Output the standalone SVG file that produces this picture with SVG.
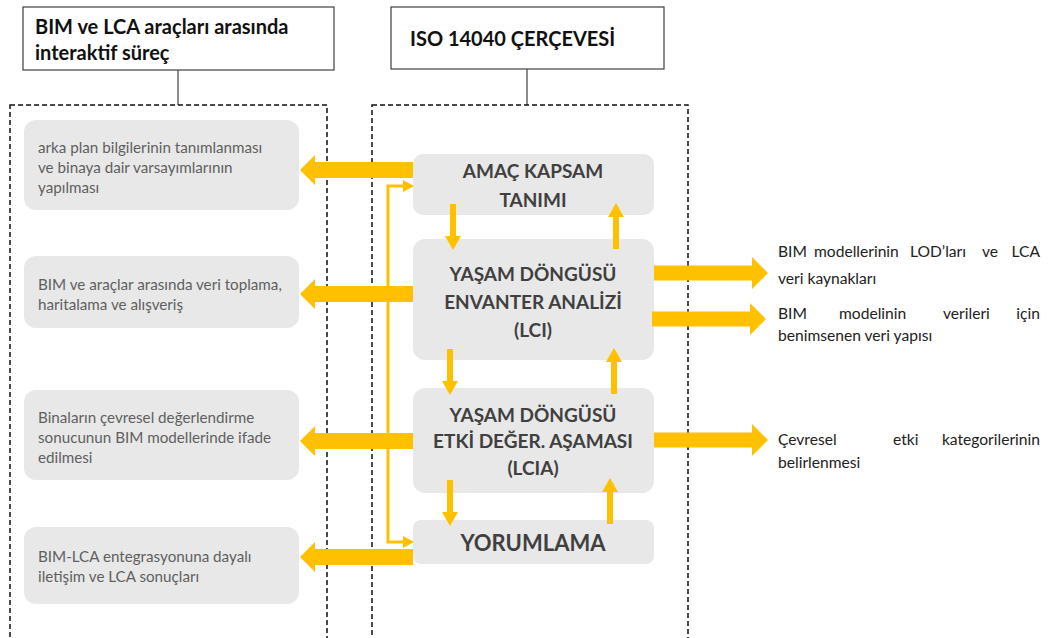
<svg xmlns="http://www.w3.org/2000/svg" width="1054" height="638" viewBox="0 0 1054 638">
  <style>
    .title { fill: #fff; stroke: #404040; stroke-width: 1.2; }
    .title-text { font-family: Lato, "Liberation Sans", sans-serif; font-weight: bold; font-size: 20px; fill: #111; }
    .frame { fill: none; stroke: #111; stroke-width: 1.5; stroke-dasharray: 5 3; }
    .stem { stroke: #404040; stroke-width: 1.2; }
    .card { fill: #e8e8e8; }
    .card-text { font-family: Lato, "Liberation Sans", sans-serif; font-size: 15.2px; fill: #5f5f5f; }
    .stage-text { font-family: Lato, "Liberation Sans", sans-serif; font-weight: bold; font-size: 19px; fill: #404040; text-anchor: middle; }
    .note-text { font-family: Lato, "Liberation Sans", sans-serif; font-size: 15.6px; fill: #222; }
    .end { text-anchor: end; }
    .arrow { fill: #ffc000; }
    .loop { fill: none; stroke: #ffc000; stroke-width: 3; }
  </style>
  <defs>
    <!-- wide block arrow pointing left, tip at origin -->
    <polygon id="bigLeft" points="0,0 15,-15 15,-8 113,-8 113,8 15,8 15,15"/>
    <!-- wide block arrow pointing right, tip at origin -->
    <polygon id="bigRight" points="0,0 -16,-16 -16,-7.5 -114,-7.5 -114,7.5 -16,7.5 -16,16"/>
    <!-- slim arrow pointing down, tip at origin, length 46 -->
    <polygon id="down" points="0,0 -8,-14 -3,-14 -3,-46 3,-46 3,-14 8,-14"/>
    <!-- slim arrow pointing up, tip at origin, length 46 -->
    <polygon id="up" points="0,0 -8,14 -3,14 -3,46 3,46 3,14 8,14"/>
  </defs>

  <!-- column headers -->
  <g id="header-left">
    <rect class="title" x="23" y="7" width="311" height="63"/>
    <text class="title-text" x="35" y="34">BIM ve LCA araçları arasında</text>
    <text class="title-text" x="35" y="60">interaktif süreç</text>
    <line class="stem" x1="178" y1="70" x2="178" y2="105"/>
  </g>
  <g id="header-right">
    <rect class="title" x="391" y="7" width="273" height="62"/>
    <text class="title-text" x="410" y="46">ISO 14040 ÇERÇEVESİ</text>
    <line class="stem" x1="527" y1="69" x2="527" y2="105"/>
  </g>

  <!-- dashed column frames -->
  <g id="frames">
    <rect class="frame" x="10" y="105" width="317" height="545"/>
    <rect class="frame" x="372" y="105" width="316" height="545"/>
  </g>

  <!-- left column cards -->
  <g id="card-background">
    <rect class="card" x="24" y="120" width="275" height="90" rx="12"/>
    <text class="card-text" x="38" y="153">arka plan bilgilerinin tanımlanması</text>
    <text class="card-text" x="38" y="173">ve binaya dair varsayımlarının</text>
    <text class="card-text" x="38" y="193">yapılması</text>
  </g>
  <g id="card-data">
    <rect class="card" x="24" y="256" width="275" height="72" rx="12"/>
    <text class="card-text" x="38" y="290">BIM ve araçlar arasında veri toplama,</text>
    <text class="card-text" x="38" y="310">haritalama ve alışveriş</text>
  </g>
  <g id="card-results">
    <rect class="card" x="24" y="390" width="275" height="90" rx="12"/>
    <text class="card-text" x="38" y="423">Binaların çevresel değerlendirme</text>
    <text class="card-text" x="38" y="443">sonucunun BIM modellerinde ifade</text>
    <text class="card-text" x="38" y="463">edilmesi</text>
  </g>
  <g id="card-communication">
    <rect class="card" x="24" y="527" width="275" height="77" rx="12"/>
    <text class="card-text" x="38" y="562">BIM-LCA entegrasyonuna dayalı</text>
    <text class="card-text" x="38" y="582">iletişim ve LCA sonuçları</text>
  </g>

  <!-- ISO 14040 stages -->
  <g id="stage-goal">
    <rect class="card" x="413" y="154" width="241" height="61" rx="10"/>
    <text class="stage-text" x="533" y="178">AMAÇ KAPSAM</text>
    <text class="stage-text" x="533" y="207">TANIMI</text>
  </g>
  <g id="stage-lci">
    <rect class="card" x="413" y="239" width="241" height="121" rx="12"/>
    <text class="stage-text" x="533" y="281">YAŞAM DÖNGÜSÜ</text>
    <text class="stage-text" x="533" y="309">ENVANTER ANALİZİ</text>
    <text class="stage-text" x="533" y="337">(LCI)</text>
  </g>
  <g id="stage-lcia">
    <rect class="card" x="413" y="388" width="241" height="105" rx="12"/>
    <text class="stage-text" x="533" y="422">YAŞAM DÖNGÜSÜ</text>
    <text class="stage-text" x="533" y="448">ETKİ DEĞER. AŞAMASI</text>
    <text class="stage-text" x="533" y="475">(LCIA)</text>
  </g>
  <g id="stage-interpretation">
    <rect class="card" x="413" y="520" width="241" height="44" rx="8"/>
    <text class="stage-text" x="533" y="551" style="font-size:22px">YORUMLAMA</text>
  </g>

  <!-- outputs on the right (justified lines) -->
  <g id="note-lod">
    <text class="note-text" y="257"><tspan x="778">BIM</tspan><tspan x="814">modellerinin</tspan><tspan x="910">LOD’ları</tspan><tspan x="982">ve</tspan></text>
    <text class="note-text end" x="1040" y="257">LCA</text>
    <text class="note-text" x="778" y="284">veri kaynakları</text>
  </g>
  <g id="note-structure">
    <text class="note-text" y="319"><tspan x="778">BIM</tspan><tspan x="839">modelinin</tspan><tspan x="943">verileri</tspan></text>
    <text class="note-text end" x="1040" y="319">için</text>
    <text class="note-text" x="778" y="341">benimsenen veri yapısı</text>
  </g>
  <g id="note-impact">
    <text class="note-text" y="445"><tspan x="778">Çevresel</tspan><tspan x="893">etki</tspan></text>
    <text class="note-text end" x="1040" y="445">kategorilerinin</text>
    <text class="note-text" x="778" y="468">belirlenmesi</text>
  </g>

  <!-- connectors -->
  <g id="connectors">
    <use href="#bigLeft" class="arrow" x="300" y="170"/>
    <use href="#bigLeft" class="arrow" x="300" y="294"/>
    <use href="#bigLeft" class="arrow" x="300" y="441"/>
    <use href="#bigLeft" class="arrow" x="300" y="557"/>

    <use href="#bigRight" class="arrow" x="768" y="273"/>
    <use href="#bigRight" class="arrow" x="766" y="319"/>
    <use href="#bigRight" class="arrow" x="768" y="440"/>

    <use href="#down" class="arrow" x="453" y="250"/>
    <use href="#up" class="arrow" x="616" y="203"/>
    <use href="#down" class="arrow" x="450" y="395"/>
    <use href="#up" class="arrow" x="614" y="348"/>
    <use href="#down" class="arrow" x="450" y="526"/>
    <use href="#up" class="arrow" x="610" y="478"/>

    <!-- feedback loop from interpretation back to every stage -->
    <polyline class="loop" points="404,186 388,186 388,542 404,542"/>
    <polygon class="arrow" points="414,186 403,180 403,192"/>
    <polygon class="arrow" points="414,542 403,536 403,548"/>
  </g>
</svg>
